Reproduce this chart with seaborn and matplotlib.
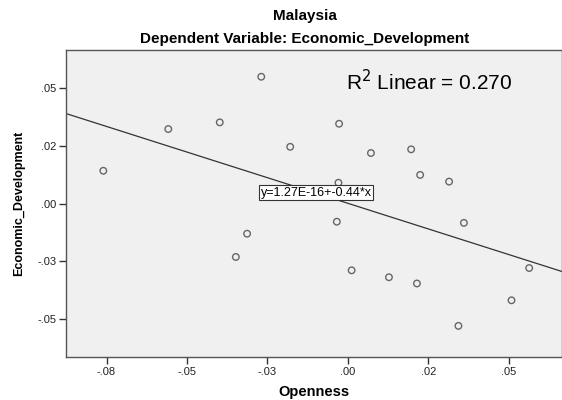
import matplotlib
matplotlib.use("Agg")
import matplotlib.pyplot as plt
import seaborn as sns
import pandas as pd

openness = [-0.0760, -0.0558, -0.0398, -0.0269, -0.0179, -0.0027, 0.0072, 0.0197,
            0.0225, 0.0315, -0.0029, -0.0313, -0.0348, -0.0034, 0.0361, 0.0012,
            0.0128, 0.0215, 0.0344, 0.0509, 0.0564]
econ_dev = [0.0143, 0.0324, 0.0353, 0.0551, 0.0247, 0.0347, 0.0220, 0.0236,
            0.0125, 0.0096, 0.0091, -0.0130, -0.0231, -0.0078, -0.0083, -0.0289,
            -0.0319, -0.0346, -0.0530, -0.0419, -0.0279]

x_ticks = [-0.075, -0.05, -0.025, 0.0, 0.025, 0.05]
x_tick_labels = ["-.08", "-.05", "-.03", ".00", ".02", ".05"]
y_ticks = [0.05, 0.025, 0.0, -0.025, -0.05]
y_tick_labels = [".05", ".02", ".00", "-.03", "-.05"]

df = pd.DataFrame({"Openness": openness, "Economic_Development": econ_dev})

sns.set_style("white")
plt.rcParams["font.family"] = ["Liberation Sans", "DejaVu Sans"]
plt.rcParams["text.color"] = "black"
plt.rcParams["axes.labelcolor"] = "black"

fig = plt.figure(figsize=(5.62, 4.00), dpi=100)
ax = fig.add_axes([66/562, 1 - 357/400, 1 - 66/562, (357 - 50)/400])
ax.set_facecolor("#F0F0F0")
ax.set_xlim(-0.0876, 0.0666)
ax.set_ylim(-0.0665, 0.0667)

sns.regplot(data=df, x="Openness", y="Economic_Development", ax=ax, ci=None,
            truncate=False,
            scatter_kws=dict(s=22, facecolors="none", edgecolors="#444444", linewidths=1.0),
            line_kws=dict(color="#333333", linewidth=0.9))
ax.set_xlim(-0.0876, 0.0666)
ax.set_ylim(-0.0665, 0.0667)

ax.set_xticks(x_ticks)
ax.set_xticklabels(x_tick_labels)
ax.set_yticks(y_ticks)
ax.set_yticklabels(y_tick_labels)
ax.tick_params(axis="both", direction="out", length=5, width=1, color="#333333",
               labelsize=8, labelcolor="#222222", pad=2)
ax.tick_params(axis="x", bottom=True)
ax.tick_params(axis="y", left=True)
for s in ax.spines.values():
    s.set_color("#555555")
    s.set_linewidth(1.0)

ax.set_xlabel("Openness", fontsize=10.5, fontweight="bold", labelpad=6, color="black")
ax.set_ylabel("Economic_Development", fontsize=9, fontweight="bold", labelpad=9, color="black")

fig.text(305/562, 1 - 16/400, "Malaysia", ha="center", va="center",
         fontsize=11, fontweight="bold", color="black")
fig.text(305/562, 1 - 39/400, "Dependent Variable: Economic_Development", ha="center",
         va="center", fontsize=11, fontweight="bold", color="black")

ax.text(429/562, 1 - 82/400, r"R$^2$ Linear = 0.270", transform=fig.transFigure,
        ha="center", va="center", fontsize=15, color="black")
ax.text(316/562, 1 - 193/400, "y=1.27E-16+-0.44*x", transform=fig.transFigure,
        ha="center", va="center", fontsize=9, color="black",
        bbox=dict(boxstyle="square,pad=0.12", facecolor="white", edgecolor="#333333",
                  linewidth=0.8))

fig.savefig("out.png", dpi=100)
